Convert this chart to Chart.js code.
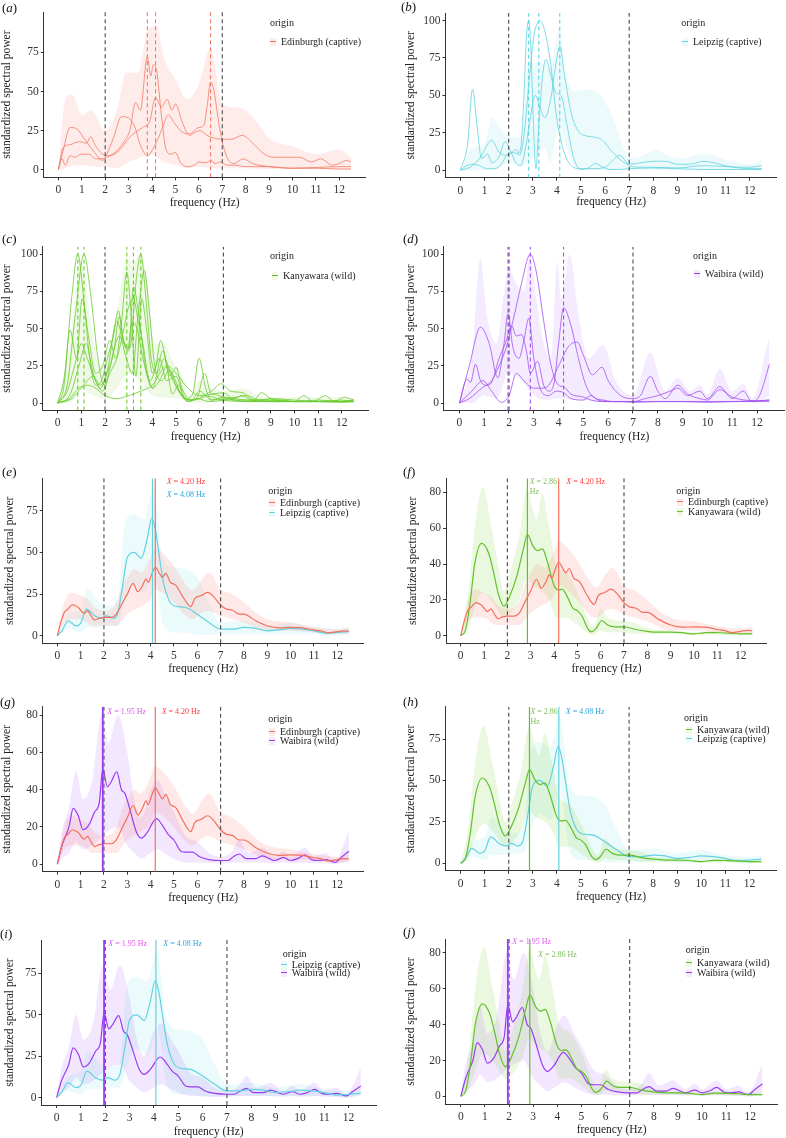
<!DOCTYPE html>
<html>
<head>
<meta charset="utf-8">
<script src="https://cdn.jsdelivr.net/npm/chart.js@4.4.0/dist/chart.umd.min.js"></script>
<style>
  body { margin: 0; width: 786px; height: 1138px; position: relative; overflow: hidden; background: #fff;
         font-family: "Liberation Serif", "Times New Roman", serif; }
  canvas { position: absolute; }
  .tag { position: absolute; font-size: 13px; line-height: 16px; color: #111; white-space: nowrap; }
  .lg { position: absolute; font-size: 10px; line-height: 14px; color: #222; white-space: nowrap; }
  .key { display: inline-block; width: 6px; height: 8px; margin-right: 5px; vertical-align: -1px; }
</style>
</head>
<body>
<script>
// ---- data (frequency Hz, standardized spectral power) ----
const xTicks = [0, 1, 2, 3, 4, 5, 6, 7, 8, 9, 10, 11, 12];
const ticks75 = [0, 25, 50, 75];
const ticks100 = [0, 25, 50, 75, 100];
const ticks80 = [0, 20, 40, 60, 80];
const bandLimits = [2, 7];

// group means
const edinMean = [[0,0],[0.15,8],[0.3,14],[0.45,16],[0.65,18.5],[0.9,17],[1.15,13.5],[1.3,15],[1.45,12],[1.6,9.5],[1.8,10.5],[2.0,11],[2.3,11],[2.5,12.5],[2.8,20],[3.0,25],[3.25,31.5],[3.45,26.5],[3.65,30],[3.8,34],[3.9,32],[4.05,37],[4.2,41],[4.4,37],[4.5,35],[4.65,37.5],[4.85,32],[5.0,31],[5.1,30],[5.4,23],[5.72,17.5],[5.9,22.5],[6.15,24],[6.45,26],[6.7,23.5],[7.0,18.5],[7.25,16],[7.5,15.5],[7.8,13],[8.0,13],[8.5,9],[9.0,6],[9.5,4.8],[10.0,5],[10.5,4.8],[11.0,3.5],[11.3,3],[11.6,1.8],[12.0,2.5],[12.3,3],[12.5,2.8]];
const edinUpper = [[0,0],[0.3,20],[0.6,26],[1.0,24],[1.3,22],[1.6,17],[2.0,15],[2.5,19],[2.8,30],[3.0,35],[3.3,40],[3.6,38],[4.0,47],[4.2,53],[4.5,50],[5.0,42],[5.5,31],[5.8,27],[6.2,34],[6.5,38],[7.0,28],[7.5,25],[8.0,20],[8.5,14],[9.0,10],[10.0,8],[11.0,5.5],[12.0,4],[12.5,5]];
const edinLower = [[0,0],[0.3,8],[0.6,10],[1.0,10],[1.5,6],[2.0,6],[2.5,6],[3.0,13],[3.5,17],[4.0,22],[4.2,28],[4.5,26],[5.0,20],[5.5,12],[5.8,10],[6.2,14],[6.5,15],[7.0,12],[7.5,10],[8.0,8],[9.0,3],[10.0,3],[11.0,2],[12.0,1],[12.5,1]];

const leipMean = [[0,0],[0.2,3],[0.47,9],[0.8,6],[1.0,7.5],[1.25,16],[1.6,12],[1.9,10.5],[2.1,12],[2.4,10.5],[2.6,14],[2.8,30],[3.0,47],[3.3,50],[3.6,46.5],[3.85,58],[4.05,70.5],[4.2,64],[4.35,50],[4.55,32],[4.8,21],[5.0,18],[5.5,17],[6.0,13],[6.5,8],[7.0,4],[7.5,4],[8.0,5],[8.5,4.5],[9.0,3],[9.5,3.5],[10.0,4.5],[10.5,4],[11.0,3],[11.5,1.5],[12.0,2],[12.5,2.5]];
const leipUpper = [[0,0],[0.5,13],[1.0,16],[1.3,28],[1.8,20],[2.2,18],[2.6,22],[2.9,68],[3.3,73],[3.7,70],[4.0,84],[4.1,90],[4.3,72],[4.5,48],[5.0,41],[5.5,40],[6.0,35],[6.5,20],[7.0,8],[8.0,9],[9.0,6],[10.0,8],[11.0,5],[12.0,4],[12.5,5]];
const leipLower = [[0,0],[0.5,4],[1.0,2],[1.3,5],[1.8,5],[2.2,6],[2.6,6],[2.9,20],[3.3,30],[3.7,26],[4.0,36],[4.1,45],[4.3,30],[4.5,8],[5.0,2],[5.5,2],[6.0,0.5],[6.5,0.5],[7.0,1],[8.0,1],[9.0,1],[10.0,1],[11.0,1],[12.0,0],[12.5,1]];

const kanyMean = [[0,0],[0.2,3],[0.4,18],[0.6,40],[0.9,51.5],[1.2,46],[1.4,36],[1.6,24],[1.85,16.5],[2.1,22],[2.4,33],[2.7,49],[2.86,56.5],[3.1,50],[3.3,47.5],[3.5,48.5],[3.7,42],[4.0,28],[4.2,25.5],[4.35,26],[4.6,21],[4.8,15.5],[5.0,14],[5.2,11],[5.45,4],[5.6,2.2],[5.8,4],[6.05,8.5],[6.3,6],[6.6,5],[7.0,5],[7.5,3.5],[8.0,2.5],[8.5,2],[9.0,2],[9.5,1.7],[10.0,1],[10.5,1.8],[11.0,1.7],[11.5,1.5],[12.0,1],[12.5,1]];
const kanyUpper = [[0,0],[0.3,20],[0.6,60],[0.95,83],[1.3,62],[1.6,40],[1.85,25],[2.1,35],[2.5,55],[2.85,82],[3.1,70],[3.25,65],[3.5,79],[3.8,60],[4.1,40],[4.5,36],[5.0,24],[5.5,8],[5.7,5],[6.0,15],[6.3,10],[7.0,8],[7.5,7],[8.0,4],[9.0,3],[10.0,2],[11.0,3],[12.0,2],[12.5,2]];
const kanyLower = [[0,0],[0.3,3],[0.6,15],[0.95,24],[1.3,20],[1.6,14],[1.85,10],[2.1,12],[2.5,20],[2.85,32],[3.1,28],[3.5,25],[3.8,20],[4.1,10],[4.5,10],[5.0,6],[5.5,1],[5.7,0.5],[6.0,3],[6.3,2],[7.0,2],[7.5,1],[8.0,1],[9.0,1],[10.0,0.5],[11.0,0.5],[12.0,0],[12.5,0.5]];

const waibMean = [[0,0],[0.2,10],[0.35,15],[0.5,20],[0.68,30],[0.9,26],[1.1,18.5],[1.35,21],[1.6,28],[1.8,33],[1.95,51],[2.15,41.5],[2.3,44],[2.55,49.5],[2.75,40],[2.9,38],[3.1,30],[3.4,17],[3.6,14],[3.85,17],[4.25,24.5],[4.5,21],[4.75,16],[5.0,13],[5.3,7],[5.5,6.5],[5.8,6.5],[6.1,4],[6.5,2.5],[7.0,2],[7.3,2],[7.55,4],[7.8,5.5],[8.1,3],[8.5,3],[8.8,4.5],[9.1,3],[9.3,2],[9.7,3.5],[10.0,2],[10.3,3],[10.6,5],[10.9,2.5],[11.2,2],[11.5,2.5],[11.9,1],[12.2,4],[12.5,7]];
const waibUpper = [[0,0],[0.2,18],[0.5,30],[0.8,50],[1.1,35],[1.5,45],[1.9,80],[2.2,65],[2.6,80],[3.0,60],[3.3,35],[3.6,25],[4.0,40],[4.3,45],[4.7,35],[5.0,28],[5.5,15],[6.0,12],[6.5,6],[7.0,4],[7.5,7],[7.8,13],[8.2,6],[8.8,9],[9.3,4],[9.7,7],[10.0,4],[10.6,9],[11.0,4],[11.5,6],[11.9,2],[12.5,18]];
const waibLower = [[0,0],[0.2,3],[0.5,6],[0.8,12],[1.1,8],[1.5,10],[1.9,15],[2.2,18],[2.6,20],[3.0,10],[3.3,6],[3.6,3],[4.0,6],[4.3,8],[4.7,5],[5.0,3],[5.5,1],[6.0,1],[6.5,0.5],[7.0,0.5],[7.5,1],[7.8,1],[8.2,1],[8.8,1],[9.3,0.5],[9.7,1],[10.0,0.5],[10.6,1],[11.0,0.5],[11.5,0.5],[11.9,0],[12.5,2]];

const edinMeanPeak = 4.20, leipMeanPeak = 4.08, kanyMeanPeak = 2.86, waibMeanPeak = 1.95;

// individuals
const edinInd1 = [[0,0],[0.15,7],[0.3,3],[0.5,9],[0.7,8],[1.0,10],[1.3,10],[1.6,7],[1.9,7],[2.2,9],[2.5,12],[2.8,18],[3.05,25],[3.3,43],[3.5,38],[3.8,72],[3.95,60],[4.05,67],[4.2,63],[4.4,35],[4.6,13],[4.8,10],[5.0,11],[5.2,5],[5.5,2],[5.8,3],[6.0,5],[6.3,4.5],[6.5,6],[6.7,4],[6.9,5],[7.2,3],[7.5,3],[8.0,2],[9.0,2],[10.0,1],[11.0,1],[12.0,0.5],[12.5,0.5]];
const edinInd2 = [[0,0],[0.2,14],[0.5,16],[0.9,18],[1.2,17],[1.38,21],[1.6,15],[1.9,10],[2.1,9],[2.4,10],[2.7,14],[3.0,20],[3.3,24],[3.6,27],[3.9,31],[4.15,46],[4.4,40],[4.65,45],[4.85,38],[5.0,42],[5.3,30],[5.6,22],[5.85,24],[6.05,25],[6.35,22],[6.7,20],[7.0,19.5],[7.4,19.5],[7.85,22],[8.3,17],[8.8,10],[9.2,8],[10.0,8],[10.3,8],[10.8,5],[11.2,7],[11.7,3],[12.0,4],[12.3,6],[12.5,5]];
const edinInd3 = [[0,0],[0.2,12],[0.5,27],[0.8,26],[1.1,20],[1.5,12],[1.9,6],[2.0,8],[2.35,20],[2.7,34],[3.0,33],[3.25,28],[3.5,16],[3.8,9],[4.1,15],[4.4,25],[4.7,35],[4.95,30],[5.3,24],[5.6,23],[6.0,27],[6.2,28],[6.35,40],[6.5,56],[6.65,50],[6.85,30],[7.0,18],[7.2,8],[7.5,4],[7.9,7],[8.3,4],[9.0,2],[10.0,1],[11.0,1.5],[12.0,2],[12.5,2]];
const edinEnvUpper = [[0,0],[0.3,45],[0.6,48],[1.0,35],[1.4,38],[2.0,25],[2.5,38],[2.9,62],[3.4,62],[3.8,88],[4.2,92],[4.5,72],[5.0,58],[5.5,45],[6.0,55],[6.5,78],[7.0,42],[7.5,40],[8.0,38],[8.5,30],[9.0,20],[10.0,15],[11.0,10],[12.0,13],[12.5,8]];
const edinEnvLower = [[0,0],[0.5,2],[1.0,3],[1.5,2],[2.0,2],[2.5,1],[3.0,5],[3.5,8],[4.0,10],[4.5,5],[5.0,3],[5.5,1],[6.0,2],[7.0,1],[8.0,1],[9.0,0.5],[10.0,0.5],[11.0,0.5],[12.0,0],[12.5,0]];
const edinPeaks = [3.8, 4.15, 6.5];

const leipInd1 = [[0,0],[0.25,3],[0.5,4],[0.8,3],[1.1,1],[1.4,1],[1.7,4],[1.95,11],[2.15,12],[2.35,11],[2.5,15],[2.62,45],[2.75,92],[2.83,100],[2.92,82],[3.03,30],[3.13,1],[3.25,30],[3.4,62],[3.55,74],[3.75,63],[3.95,52],[4.2,49],[4.4,32],[4.7,8],[5.0,0.5],[5.3,1.5],[5.6,4.5],[5.9,2],[6.2,0.5],[6.6,0.5],[7.0,1],[8.0,1.5],[9.0,1],[10.0,0.5],[11.0,0.5],[12.0,0.5],[12.5,0.5]];
const leipInd2 = [[0,0],[0.4,2],[0.8,8],[1.3,20],[1.6,12],[1.9,10],[2.1,11],[2.3,14],[2.45,10],[2.65,25],[2.85,60],[3.05,90],[3.3,100],[3.5,93],[3.75,70],[3.95,40],[4.1,25],[4.3,12],[4.6,3],[5.0,1],[5.5,1],[6.0,2],[6.35,7],[6.6,10],[6.85,6],[7.0,3],[7.5,2],[8.0,2],[9.0,1.5],[10.0,3],[11.0,2.5],[12.0,1],[12.5,1]];
const leipInd3 = [[0,0],[0.3,18],[0.5,54],[0.7,28],[0.87,8],[1.0,9],[1.12,11],[1.3,5],[1.6,9],[1.85,19],[2.1,12],[2.3,5],[2.5,3],[2.7,15],[2.9,35],[3.1,50],[3.3,42],[3.5,35],[3.75,48],[3.95,70],[4.12,83],[4.3,65],[4.6,38],[4.9,26],[5.2,23],[5.6,22],[5.9,20],[6.2,14],[6.5,9],[6.8,5],[7.0,4],[7.5,5],[8.0,6],[8.5,6],[9.0,4],[9.5,4],[10.1,6],[10.5,5],[11.0,3],[11.5,2],[12.0,2],[12.5,3]];
const leipEnvUpper = [[0,0],[0.5,15],[1.0,18],[1.3,35],[1.8,25],[2.3,22],[2.6,30],[2.8,72],[3.3,72],[3.7,68],[4.1,95],[4.4,62],[4.8,53],[5.3,54],[5.8,50],[6.3,36],[6.7,18],[7.0,8],[7.6,10],[8.1,14],[8.6,10],[9.2,8],[10.1,11],[11.0,7],[12.0,4],[12.5,7]];
const leipEnvLower = [[0,0],[0.5,0],[1.0,0],[1.5,1],[2.0,5],[2.5,3],[3.0,8],[3.5,15],[3.7,5],[4.1,30],[4.5,10],[5.0,0],[6.0,0],[7.0,0.5],[8.0,0.5],[9.0,0.5],[10.0,0.5],[11.0,0.5],[12.0,0],[12.5,0]];
const leipPeaks = [2.83, 3.25, 4.12];

const kanyInd1 = [[0,0],[0.3,20],[0.6,72],[0.85,100],[1.1,70],[1.35,30],[1.6,12],[1.85,15],[2.1,30],[2.35,45],[2.56,62],[2.75,45],[2.95,36],[3.15,55],[3.35,50],[3.6,30],[3.9,15],[4.15,25],[4.35,42],[4.6,25],[4.85,6],[5.1,12],[5.4,3],[5.7,6],[5.97,30],[6.25,10],[6.5,2],[7.0,3],[7.5,2],[8.0,1],[9.0,1],[10.0,1],[11.0,1],[12.0,1],[12.5,1]];
const kanyInd2 = [[0,0],[0.4,12],[0.75,60],[1.11,100],[1.4,72],[1.7,30],[1.95,12],[2.15,20],[2.4,38],[2.6,58],[2.8,40],[3.0,35],[3.2,78],[3.42,60],[3.7,25],[4.0,10],[4.45,35],[4.75,18],[5.0,24],[5.25,10],[5.6,2],[5.9,4],[6.2,20],[6.5,6],[7.0,7],[7.4,3],[7.8,5],[8.2,2],[9.0,2],[10.0,1],[11.0,1],[12.0,1],[12.5,2]];
const kanyInd3 = [[0,0],[0.25,10],[0.52,49],[0.8,30],[1.03,70],[1.3,45],[1.6,20],[1.9,25],[2.2,42],[2.45,30],[2.7,55],[2.92,88],[3.1,60],[3.3,18],[3.55,70],[3.75,50],[4.0,20],[4.3,30],[4.6,15],[5.0,18],[5.3,5],[5.6,1],[6.0,8],[6.5,2],[7.0,4],[8.0,2],[9.0,2],[10.0,1],[11.0,2],[12.0,1],[12.5,2]];
const kanyInd4 = [[0,0],[0.5,5],[0.9,25],[1.2,40],[1.5,20],[1.8,10],[2.1,22],[2.5,55],[2.8,40],[3.05,37],[3.3,80],[3.51,100],[3.7,75],[3.95,30],[4.2,20],[4.5,30],[4.8,18],[5.1,8],[5.5,2],[6.0,3],[6.5,6],[7.0,4],[7.5,2],[8.0,2],[9.0,1],[10.0,1],[11.0,1],[12.0,0.5],[12.5,1]];
const kanyInd5 = [[0,0],[0.6,3],[1.0,10],[1.5,18],[1.8,12],[2.2,25],[2.6,45],[2.9,30],[3.15,20],[3.4,60],[3.66,89],[3.85,65],[4.1,25],[4.4,15],[4.7,22],[5.0,12],[5.4,3],[5.8,2],[6.2,5],[7.0,2],[8.0,1],[9.0,1],[10.0,1],[11.0,1],[12.0,1],[12.5,1]];
const kanyInd6 = [[0,0],[0.5,3],[0.9,10],[1.25,12],[1.6,10],[2.0,5],[2.5,3],[3.0,5],[3.5,8],[4.0,12],[4.6,25],[5.0,20],[5.5,10],[6.0,5],[6.5,8],[6.9,13],[7.3,8],[7.8,7],[8.3,2],[8.6,7],[9.0,3],[9.5,2],[10.0,1],[10.4,5],[10.8,1],[11.3,5],[11.7,1],[12.1,4],[12.5,2]];
const kanyInd7 = [[0,0],[0.4,8],[0.8,30],[1.0,40],[1.25,30],[1.6,15],[1.9,8],[2.2,20],[2.5,30],[2.8,50],[3.0,65],[3.2,70],[3.4,55],[3.6,40],[3.8,20],[4.0,10],[4.3,15],[4.6,24],[4.9,18],[5.2,6],[5.5,1],[5.9,3],[6.4,1],[7.0,2],[8.0,5],[8.5,2],[9.0,3],[10.0,2],[11.0,1],[12.0,2],[12.5,1]];
const kanyEnvUpper = [[0,0],[0.3,20],[0.7,65],[0.9,95],[1.1,90],[1.4,55],[1.8,25],[2.2,40],[2.6,70],[2.9,97],[3.2,95],[3.5,100],[3.8,80],[4.1,40],[4.5,40],[4.8,30],[5.2,20],[5.6,5],[6.0,15],[6.5,10],[7.0,8],[7.8,10],[8.5,5],[9.0,4],[10.0,4],[11.0,4],[12.0,4],[12.5,3]];
const kanyEnvLower = [[0,0],[0.5,0],[1.0,10],[1.5,5],[2.0,3],[2.5,10],[3.0,20],[3.5,15],[4.0,5],[5.0,3],[6.0,0],[7.0,0.5],[8.0,0.5],[9.0,0.5],[10.0,0.5],[11.0,0.5],[12.0,0],[12.5,0.5]];
const kanyPeaks = [0.85, 1.11, 2.92, 3.2, 3.51];

const waibInd1 = [[0,0],[0.4,3],[0.9,10],[1.3,15],[1.6,25],[1.9,38],[2.2,58],[2.5,80],[2.86,100],[3.1,88],[3.4,55],[3.7,25],[4.0,12],[4.2,11],[4.5,6],[5.0,4],[5.3,2],[5.8,1],[6.5,1],[7.0,0.5],[8.0,1],[9.0,1],[10.0,0.5],[11.0,1],[12.0,1.5],[12.5,2]];
const waibInd2 = [[0,0],[0.3,16],[0.45,14],[0.65,26],[0.85,15],[1.1,12],[1.3,14],[1.6,30],[1.85,40],[2.1,52],[2.3,45],[2.5,46],[2.7,35],[2.86,20],[3.15,28],[3.4,12],[3.6,8],[3.8,12],[4.0,40],[4.2,64],[4.5,52],[4.8,30],[5.1,12],[5.4,4],[5.8,2],[6.2,1],[7.0,1],[8.0,1],[9.0,1],[10.0,1],[11.0,1],[12.0,1],[12.5,1]];
const waibInd3 = [[0,0],[0.4,25],[0.85,51],[1.2,40],[1.55,17],[1.8,40],[1.96,60],[2.15,38],[2.4,30],[2.6,42],[2.8,57],[3.0,30],[3.3,8],[3.6,5],[3.9,8],[4.2,7],[4.5,3],[5.0,2],[5.3,5],[5.6,2],[6.0,1],[6.5,1],[7.0,1],[7.5,3],[8.0,5],[8.5,8],[8.8,10],[9.2,5],[9.7,8],[10.0,3],[10.5,11],[11.0,3],[11.45,8],[11.8,1],[12.1,5],[12.5,26]];
const waibInd4 = [[0,0],[0.5,8],[0.95,15],[1.3,8],[1.69,0.5],[2.0,5],[2.3,20],[2.6,15],[3.0,10],[3.3,10],[3.6,12],[4.0,25],[4.4,38],[4.75,41],[5.0,32],[5.36,19],[5.75,24],[6.0,15],[6.5,5],[7.0,3],[7.3,5],[7.7,18],[8.0,8],[8.3,3],[8.8,12],[9.2,6],[9.7,3],[10.0,2],[10.5,9],[11.0,4],[11.5,2],[12.0,1.5],[12.5,2]];
const waibEnvUpper = [[0,0],[0.5,30],[0.85,97],[1.1,60],[1.5,40],[1.8,75],[2.0,90],[2.3,80],[2.6,75],[2.85,100],[3.1,70],[3.4,40],[3.7,30],[3.95,95],[4.1,70],[4.45,100],[4.8,60],[5.2,30],[5.8,39],[6.3,15],[7.0,5],[7.7,34],[8.3,8],[8.8,17],[9.3,8],[9.7,12],[10.0,6],[10.5,23],[11.0,8],[11.45,13],[11.8,3],[12.5,45]];
const waibEnvLower = [[0,0],[0.5,0],[1.0,5],[1.5,3],[2.0,20],[2.5,15],[3.0,5],[3.5,2],[4.0,3],[5.0,2],[6.0,0.5],[7.0,0.5],[8.0,0.5],[9.0,0.5],[10.0,0.5],[11.0,0.5],[12.0,0.5],[12.5,5]];
const waibPeaks = [1.96, 2.86, 4.2];

// ---- styling ----
const FAM = '"Liberation Serif", "Times New Roman", serif';
Chart.defaults.font.family = FAM;
const COL = {
  edin: { name: 'Edinburgh (captive)', line: '#F4705E', ind: '#F47A66', text: '#FF3B3B', fill: 'rgba(248,118,109,0.16)', env: 'rgba(248,118,109,0.14)' },
  leip: { name: 'Leipzig (captive)', line: '#62D2E0', ind: '#5FD3DF', text: '#2AA5DD', fill: 'rgba(0,191,196,0.08)', env: 'rgba(0,191,196,0.07)' },
  kany: { name: 'Kanyawara (wild)', line: '#62C12A', ind: '#6ACB2E', text: '#7FBE5A', fill: 'rgba(124,205,50,0.15)', env: 'rgba(124,205,50,0.12)' },
  waib: { name: 'Waibira (wild)', line: '#9A3DF0', ind: '#A24FF0', text: '#E256F0', fill: 'rgba(190,120,255,0.18)', env: 'rgba(190,120,255,0.15)' }
};
const GREY = '#4a4a4a';

function pts(arr) { return arr.map(p => ({ x: p[0], y: p[1] })); }
function lineDs(arr, color, width) {
  return { data: pts(arr), borderColor: color, borderWidth: width, pointRadius: 0,
           cubicInterpolationMode: 'monotone', fill: false, order: 1 };
}
function bandDs(upper, lower, color) {
  return [
    { data: pts(upper), borderColor: 'rgba(0,0,0,0)', borderWidth: 0, pointRadius: 0,
      cubicInterpolationMode: 'monotone', fill: '+1', backgroundColor: color, order: 3 },
    { data: pts(lower), borderColor: 'rgba(0,0,0,0)', borderWidth: 0, pointRadius: 0,
      cubicInterpolationMode: 'monotone', fill: false, order: 3 }
  ];
}
function vline(x, lo, hi, color, width, dash) {
  return { data: [{ x: x, y: lo }, { x: x, y: hi }], borderColor: color, borderWidth: width,
           borderDash: dash || [], pointRadius: 0, fill: false, tension: 0, order: 0 };
}

// draws the "X = 4.20 Hz" notes next to the mean lines
const peakLabels = {
  id: 'peakLabels',
  afterDraw(chart, args, opts) {
    const items = (opts && opts.items) || [];
    const ctx = chart.ctx, xs = chart.scales.x, area = chart.chartArea;
    items.forEach(it => {
      const px = xs.getPixelForValue(it.value) + it.dx;
      const py = area.top + it.dy;
      ctx.save();
      ctx.fillStyle = it.color;
      ctx.textBaseline = 'middle';
      ctx.textAlign = 'left';
      ctx.font = 'italic 8px ' + FAM;
      ctx.fillText('X', px, py);
      const w = ctx.measureText('X').width;
      ctx.font = '8px ' + FAM;
      const num = it.value.toFixed(2);
      if (it.wrap) {
        ctx.fillText(' = ' + num, px + w, py);
        ctx.fillText('Hz', px, py + 10);
      } else {
        ctx.fillText(' = ' + num + ' Hz', px + w, py);
      }
      ctx.restore();
    });
  }
};
Chart.register(peakLabels);

function individualSets(g, inds, up, low, peaks, lo, hi) {
  const c = COL[g];
  return [
    ...bandDs(up, low, c.env),
    ...inds.map(a => lineDs(a, c.ind, 0.8)),
    ...peaks.map(p => vline(p, lo, hi, c.ind, 1.1, [4, 3])),
    ...bandLimits.map(p => vline(p, lo, hi, GREY, 1.1, [4, 3]))
  ];
}
const MEANS = {
  edin: [edinMean, edinUpper, edinLower, edinMeanPeak],
  leip: [leipMean, leipUpper, leipLower, leipMeanPeak],
  kany: [kanyMean, kanyUpper, kanyLower, kanyMeanPeak],
  waib: [waibMean, waibUpper, waibLower, waibMeanPeak]
};
function compareSets(groups, lo, hi) {
  const out = [];
  groups.forEach(g => out.push(...bandDs(MEANS[g][1], MEANS[g][2], COL[g].fill)));
  groups.forEach(g => out.push(lineDs(MEANS[g][0], COL[g].line, 1.2)));
  groups.forEach(g => out.push(vline(MEANS[g][3], lo, hi, COL[g].line, g === 'waib' ? 1.8 : 1.2)));
  bandLimits.forEach(p => out.push(vline(p, lo, hi, GREY, 1.1, [4, 3])));
  return out;
}

const panels = [
  { tag: 'a', ox: 0, oy: 0, L: 43.7, R: 365.7, T: 12, B: 177.3, xT: 203.3, yT: 7.3, ymin: -4.8, ymax: 100.8, yticks: ticks75,
    sets: (lo, hi) => individualSets('edin', [edinInd1, edinInd2, edinInd3], edinEnvUpper, edinEnvLower, edinPeaks, lo, hi),
    legend: { x: 270, y: 23.3, items: [{ g: 'edin', x: 281, y: 41.7 }] } },
  { tag: 'b', ox: 393, oy: 0, L: 445.4, R: 776.8, T: 13, B: 177.7, xT: 201.7, yT: 411.3, ymin: -5, ymax: 105, yticks: ticks100,
    sets: (lo, hi) => individualSets('leip', [leipInd1, leipInd2, leipInd3], leipEnvUpper, leipEnvLower, leipPeaks, lo, hi),
    legend: { x: 681.3, y: 23.3, items: [{ g: 'leip', x: 693, y: 42.3 }] } },
  { tag: 'c', ox: 0, oy: 215, L: 42.9, R: 368.4, T: 246.7, B: 410.5, xT: 437.3, yT: 7.3, ymin: -5, ymax: 105, yticks: ticks100,
    sets: (lo, hi) => individualSets('kany', [kanyInd1, kanyInd2, kanyInd3, kanyInd4, kanyInd5, kanyInd6, kanyInd7], kanyEnvUpper, kanyEnvLower, kanyPeaks, lo, hi),
    legend: { x: 270, y: 255.7, items: [{ g: 'kany', x: 283, y: 275.7 }] } },
  { tag: 'd', ox: 393, oy: 215, L: 443.9, R: 784.9, T: 246.7, B: 410.5, xT: 437.3, yT: 411.3, ymin: -5, ymax: 105, yticks: ticks100,
    sets: (lo, hi) => individualSets('waib', [waibInd1, waibInd2, waibInd3, waibInd4], waibEnvUpper, waibEnvLower, waibPeaks, lo, hi),
    legend: { x: 693, y: 255.7, items: [{ g: 'waib', x: 705, y: 274 }] } },
  { tag: 'e', ox: 0, oy: 425, L: 42.7, R: 363.5, T: 478.3, B: 643.3, xT: 669, yT: 10, ymin: -4.5, ymax: 94.5, yticks: ticks75,
    sets: (lo, hi) => compareSets(['edin', 'leip'], lo, hi),
    notes: [{ g: 'edin', dx: 11.4, dy: 3.4 }, { g: 'leip', dx: 14.2, dy: 16.7 }],
    legend: { x: 268.3, y: 491, items: [{ g: 'edin', x: 280, y: 503.3 }, { g: 'leip', x: 280, y: 512.7 }] } },
  { tag: 'f', ox: 393, oy: 425, L: 446.1, R: 766.9, T: 478.3, B: 643.3, xT: 669, yT: 413, ymin: -4.2, ymax: 87.8, yticks: ticks80,
    sets: (lo, hi) => compareSets(['edin', 'kany'], lo, hi),
    notes: [{ g: 'kany', dx: 2.3, dy: 3.4, wrap: true }, { g: 'edin', dx: 7.6, dy: 3.4 }],
    legend: { x: 676.3, y: 491, items: [{ g: 'edin', x: 688, y: 502.3 }, { g: 'kany', x: 688, y: 511.7 }] } },
  { tag: 'g', ox: 0, oy: 655, L: 42.7, R: 363.5, T: 706.7, B: 871.7, xT: 898.3, yT: 7.3, ymin: -4, ymax: 84.5, yticks: ticks80,
    sets: (lo, hi) => compareSets(['edin', 'waib'], lo, hi),
    notes: [{ g: 'waib', dx: 4.5, dy: 5 }, { g: 'edin', dx: 6.4, dy: 5 }],
    legend: { x: 268.3, y: 719, items: [{ g: 'edin', x: 280, y: 732.3 }, { g: 'waib', x: 280, y: 740.7 }] } },
  { tag: 'h', ox: 393, oy: 655, L: 445.6, R: 776.5, T: 706.7, B: 870.8, xT: 896.7, yT: 411.3, ymin: -4.5, ymax: 94.5, yticks: ticks75,
    sets: (lo, hi) => compareSets(['kany', 'leip'], lo, hi),
    notes: [{ g: 'kany', dx: 1, dy: 5, wrap: true }, { g: 'leip', dx: 7, dy: 5 }],
    legend: { x: 684, y: 718.3, items: [{ g: 'kany', x: 697, y: 730 }, { g: 'leip', x: 697, y: 739 }] } },
  { tag: 'i', ox: 0, oy: 885, L: 41.4, R: 376, T: 940, B: 1105, xT: 1131.7, yT: 10, ymin: -4.5, ymax: 95.2, yticks: ticks75,
    sets: (lo, hi) => compareSets(['leip', 'waib'], lo, hi),
    notes: [{ g: 'waib', dx: 4.3, dy: 4.3 }, { g: 'leip', dx: 7.4, dy: 4.3 }],
    legend: { x: 282.7, y: 954.3, items: [{ g: 'leip', x: 291.7, y: 965 }, { g: 'waib', x: 291.7, y: 973.3 }] } },
  { tag: 'j', ox: 393, oy: 885, L: 445.7, R: 777.5, T: 939, B: 1104, xT: 1130, yT: 411.3, ymin: -4.2, ymax: 87.6, yticks: ticks80,
    sets: (lo, hi) => compareSets(['kany', 'waib'], lo, hi),
    notes: [{ g: 'waib', dx: 4.4, dy: 3.3 }, { g: 'kany', dx: 8.2, dy: 16 }],
    legend: { x: 685.7, y: 950, items: [{ g: 'kany', x: 697, y: 963.3 }, { g: 'waib', x: 697, y: 973.3 }] } }
];
const tagPos = { a: [2, 8], b: [401, 6.5], c: [2, 239], d: [403, 239], e: [2, 471.7], f: [403, 471.7], g: [0, 701.7], h: [403, 701.7], i: [0, 934], j: [403, 931.7] };

function addDiv(cls, left, top, html) {
  const d = document.createElement('div');
  d.className = cls;
  d.style.left = left + 'px';
  d.style.top = top + 'px';
  d.innerHTML = html;
  document.body.appendChild(d);
}

panels.forEach(p => {
  const H = Math.round(p.xT - p.oy + 7);
  const canvas = document.createElement('canvas');
  canvas.width = 393;
  canvas.height = H;
  canvas.style.left = p.ox + 'px';
  canvas.style.top = p.oy + 'px';
  document.body.appendChild(canvas);

  const tickFont = { family: FAM, size: 11.5 };
  const notes = (p.notes || []).map(n => ({ value: MEANS[n.g][3], dx: n.dx, dy: n.dy, wrap: n.wrap, color: COL[n.g].text }));

  new Chart(canvas.getContext('2d'), {
    type: 'line',
    data: { datasets: p.sets(p.ymin, p.ymax) },
    options: {
      responsive: false,
      animation: false,
      events: [],
      layout: { padding: { left: 0, top: p.T - p.oy, right: p.ox + 393 - p.R, bottom: 0 } },
      plugins: { legend: { display: false }, tooltip: { enabled: false }, peakLabels: { items: notes } },
      scales: {
        x: {
          type: 'linear', min: -0.625, max: 13.125,
          afterBuildTicks: s => { s.ticks = xTicks.map(v => ({ value: v })); },
          afterFit: s => { s.height = H - (p.B - p.oy); },
          grid: { drawOnChartArea: false, tickLength: 3, color: '#333' },
          border: { color: '#333', width: 1 },
          ticks: { font: tickFont, color: '#333', padding: 3, maxRotation: 0, autoSkip: false },
          title: { display: true, text: 'frequency (Hz)', font: tickFont, color: '#222', padding: { top: 0, bottom: 0 } }
        },
        y: {
          type: 'linear', min: p.ymin, max: p.ymax,
          afterBuildTicks: s => { s.ticks = p.yticks.map(v => ({ value: v })); },
          afterFit: s => { s.width = p.L - p.ox; },
          grid: { drawOnChartArea: false, tickLength: 3, color: '#333' },
          border: { color: '#333', width: 1 },
          ticks: { font: tickFont, color: '#333', padding: 2 },
          title: { display: true, text: 'standardized spectral power', font: tickFont, color: '#222',
                   padding: { top: Math.max(p.yT - p.ox - 6.9, 0), bottom: 0 } }
        }
      }
    }
  });

  const t = tagPos[p.tag];
  addDiv('tag', t[0], t[1] - 8, '(<i>' + p.tag + '</i>)');
  addDiv('lg', p.legend.x, p.legend.y - 7, 'origin');
  p.legend.items.forEach(it => {
    const c = COL[it.g];
    addDiv('lg', it.x - 11, it.y - 7,
      '<span class="key" style="background:linear-gradient(' + c.env + ' 0 40%, ' + c.line + ' 40% 56%, ' + c.env + ' 56% 100%)"></span>' + c.name);
  });
});
</script>
</body>
</html>
